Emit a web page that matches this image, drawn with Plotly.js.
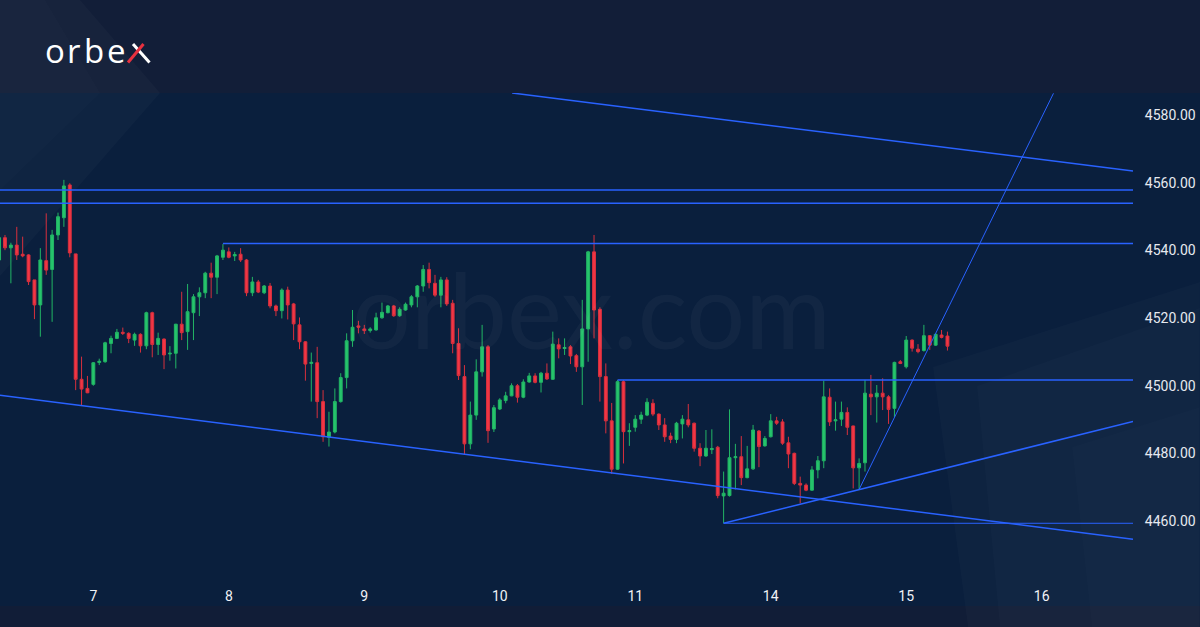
<!DOCTYPE html>
<html>
<head>
<meta charset="utf-8">
<script src="https://cdn.plot.ly/plotly-3.0.1.min.js"></script>
<style>
  html, body { margin: 0; padding: 0; background: #0a1f3d; }
  #chart { width: 1200px; height: 627px; }
</style>
</head>
<body>
<div id="chart"></div>
<script>
// ---------- DATA (hourly candles, index 0 = first visible bar) ----------
const opens = [4537.2,4543.8,4540.8,4541.6,4538.9,4538.7,4531.3,4523.9,4537.0,4534.4,4544.6,4549.7,4559.4,4539.0,4501.9,4499.2,4500.4,4506.9,4507.1,4512.5,
4514.0,4515.8,4515.5,4513.5,4515.2,4511.8,4521.6,4512.2,4513.8,4509.4,4509.6,4518.2,4516.0,4521.6,4526.3,4527.5,4533.3,4532.1,4538.0,4539.6,
4538.4,4538.9,4537.2,4527.5,4530.7,4527.5,4529.5,4523.6,4522.2,4528.3,4524.2,4518.0,4513.0,4506.6,4506.8,4495.3,4484.7,4486.3,4495.3,4502.4,
4513.3,4517.7,4516.8,4516.3,4516.5,4520.1,4521.6,4523.6,4520.7,4522.4,4523.9,4526.3,4529.5,4534.4,4530.3,4526.8,4531.3,4524.4,4512.5,4502.7,
4482.8,4491.3,4504.1,4511.5,4487.2,4493.1,4495.6,4497.0,4500.0,4496.6,4501.1,4502.9,4501.0,4503.7,4501.9,4512.1,4511.0,4511.5,4508.9,4505.6,
4516.8,4539.6,4522.6,4502.7,4489.6,4475.3,4501.2,4486.4,4487.7,4490.1,4491.3,4494.8,4491.6,4488.4,4485.1,4484.1,4488.7,4489.9,4488.9,4481.5,
4479.2,4481.1,4481.8,4467.4,4467.5,4478.7,4479.0,4472.8,4475.4,4486.6,4482.2,4484.9,4489.6,4489.3,4483.1,4480.0,4471.1,4470.6,4469.1,4475.1,
4477.8,4496.6,4489.6,4490.1,4492.1,4488.1,4475.7,4477.2,4497.5,4496.7,4497.8,4496.7,4493.3,4507.1,4505.6,4513.5,4510.8,4510.4,4514.8,4512.0,
4515.0,4514.7];
const highs = [4544.6,4544.6,4542.3,4547.0,4544.1,4538.9,4531.3,4540.7,4551.0,4546.1,4551.2,4560.9,4559.9,4539.0,4508.6,4502.9,4507.0,4508.0,4513.0,4514.8,
4516.8,4517.2,4515.8,4515.7,4515.5,4521.9,4521.9,4515.7,4514.0,4511.7,4518.3,4527.8,4530.1,4527.1,4529.1,4533.7,4536.4,4538.7,4541.9,4540.9,
4539.6,4540.7,4537.5,4532.2,4531.3,4529.8,4530.4,4524.0,4528.8,4529.3,4524.5,4520.2,4513.2,4509.8,4511.5,4498.7,4492.3,4499.2,4503.7,4515.5,
4522.4,4519.2,4518.0,4517.3,4521.6,4524.6,4523.9,4523.9,4523.2,4524.6,4526.8,4529.8,4535.7,4536.4,4532.8,4532.2,4532.1,4525.4,4517.0,4506.1,
4495.3,4507.8,4518.0,4512.0,4494.3,4496.3,4498.2,4500.7,4500.5,4501.9,4503.8,4503.7,4504.1,4506.6,4516.0,4514.0,4514.0,4512.0,4509.4,4525.4,
4539.9,4544.6,4523.2,4506.6,4494.9,4501.7,4501.7,4488.9,4491.3,4492.3,4496.3,4496.0,4491.8,4490.4,4486.1,4489.3,4491.3,4494.6,4489.1,4483.0,
4486.9,4487.1,4482.2,4474.6,4493.0,4482.8,4485.1,4482.2,4488.4,4486.9,4485.1,4491.6,4490.8,4490.1,4484.9,4480.2,4473.1,4471.1,4476.2,4479.2,
4501.5,4499.2,4495.3,4495.3,4493.6,4488.2,4478.5,4501.7,4503.2,4500.2,4502.2,4497.2,4507.1,4507.6,4514.7,4513.7,4512.3,4518.0,4515.0,4515.5,
4516.5,4516.0];
const lows = [4536.6,4540.1,4530.3,4537.2,4538.0,4529.8,4519.7,4514.5,4532.8,4518.9,4543.1,4547.0,4538.0,4498.7,4494.3,4497.8,4500.0,4506.1,4506.8,4509.6,
4513.8,4515.0,4512.6,4511.8,4509.8,4510.8,4508.4,4509.1,4504.9,4507.4,4505.1,4513.5,4510.6,4513.5,4520.6,4525.9,4525.9,4527.1,4537.2,4537.7,
4536.9,4536.6,4526.5,4526.5,4527.4,4527.1,4522.9,4520.6,4519.9,4519.6,4513.5,4510.8,4501.5,4495.3,4490.4,4483.4,4482.0,4485.9,4495.0,4499.2,
4511.5,4515.5,4515.3,4515.7,4516.3,4519.8,4521.4,4520.4,4520.4,4522.2,4523.2,4523.2,4527.8,4528.8,4526.3,4523.2,4523.6,4509.6,4501.7,4479.5,
4481.2,4489.9,4502.7,4483.1,4486.3,4492.8,4494.8,4496.9,4495.0,4496.3,4500.9,4500.7,4498.0,4501.7,4501.7,4508.1,4509.1,4506.4,4504.1,4494.3,
4507.1,4514.0,4495.3,4485.9,4473.9,4475.1,4477.0,4482.2,4486.4,4488.7,4491.0,4491.0,4486.9,4483.4,4483.0,4483.0,4484.4,4487.7,4480.5,4476.2,
4479.0,4479.8,4466.7,4459.3,4467.2,4469.3,4470.6,4472.6,4475.1,4475.9,4482.0,4484.7,4488.4,4482.5,4475.6,4470.6,4465.2,4468.8,4468.9,4472.6,
4475.6,4488.1,4486.7,4488.1,4485.4,4469.6,4469.3,4474.6,4491.3,4489.1,4492.8,4488.7,4490.7,4506.4,4505.1,4510.1,4509.6,4510.1,4510.6,4511.8,
4514.0,4510.4];
const closes = [4543.8,4540.8,4541.6,4538.7,4538.4,4530.8,4523.9,4537.2,4534.2,4544.6,4550.0,4559.1,4539.3,4501.9,4499.0,4497.9,4506.8,4507.2,4512.7,4514.0,
4515.8,4515.5,4514.0,4515.2,4511.8,4521.6,4512.2,4514.0,4509.1,4509.6,4518.2,4515.7,4521.9,4526.3,4527.5,4533.3,4532.1,4538.4,4540.1,4538.0,
4538.8,4537.2,4527.5,4530.7,4527.7,4529.5,4523.6,4522.2,4528.3,4523.9,4518.3,4513.0,4506.4,4506.9,4495.3,4484.9,4486.3,4495.3,4502.4,4513.3,
4517.3,4517.3,4516.3,4516.8,4520.1,4521.7,4523.6,4520.7,4522.6,4524.1,4526.3,4529.5,4534.4,4530.5,4526.8,4531.3,4524.2,4512.5,4503.0,4482.8,
4491.3,4504.1,4511.5,4486.7,4493.5,4495.8,4497.0,4500.0,4496.6,4501.1,4502.9,4501.0,4503.7,4502.0,4512.3,4510.9,4511.3,4508.8,4505.6,4516.8,
4539.6,4522.4,4502.7,4489.6,4475.3,4501.2,4486.4,4486.7,4490.1,4491.3,4495.1,4491.6,4488.4,4484.9,4484.1,4488.9,4490.1,4488.4,4481.5,4479.2,
4481.5,4481.4,4467.5,4468.2,4478.7,4479.0,4472.8,4475.4,4486.9,4482.0,4484.4,4489.6,4488.9,4483.0,4479.8,4471.1,4470.6,4469.1,4475.1,4477.8,
4496.7,4489.3,4489.9,4492.1,4487.7,4475.7,4477.0,4497.8,4496.7,4497.8,4496.7,4493.0,4506.9,4506.6,4513.5,4511.1,4510.1,4514.8,4512.0,4515.2,
4514.3,4511.7];

// x-axis: bar index of the first bar of each day, and its label
const dayTickIdx  = [16, 39, 62, 85, 108, 131, 154, 177];
const dayTickText = ['7', '8', '9', '10', '11', '14', '15', '16'];
const priceTicks  = [4460, 4480, 4500, 4520, 4540, 4560, 4580];

// sloped trend lines: start/end bar index and price
const trendX0 = [87.1, 0.15, 123, 146];
const trendY0 = [4586.6, 4497.2, 4459.3, 4469.3];
const trendX1 = [192.5, 192.5, 192.5, 179.0];
const trendY1 = [4563.5, 4454.6, 4489.4, 4586.5];
const trendW  = [1.5, 1.5, 1.5, 1];

// horizontal levels: price and first bar index
const levelPrice = [4557.9, 4554.0, 4542.1, 4501.7, 4459.3];
const levelStart = [-2, -2, 38, 105, 123];
const levelW     = [1.5, 1.5, 1.5, 1.5, 1];
const rightEndIdx = 192.5;

// ---------- LAYOUT GEOMETRY ----------
const W = 1200, H = 627, mL = 0, mR = 67, mT = 93, mB = 52;
const pW = W - mL - mR, pH = H - mT - mB;
const fx = px => (px - mL) / pW;
const fy = py => (H - mB - py) / pH;
const poly = pts => 'M ' + pts.map(p => fx(p[0]).toFixed(4) + ',' + fy(p[1]).toFixed(4)).join(' L ') + ' Z';

const BLUE = '#2962ff';
const shapes = [];

// background decoration
shapes.push({type: 'rect', xref: 'paper', yref: 'paper', x0: fx(0), x1: fx(W), y0: fy(0), y1: fy(93), fillcolor: '#121e38', line: {width: 0}, layer: 'below'});
shapes.push({type: 'rect', xref: 'paper', yref: 'paper', x0: fx(0), x1: fx(W), y0: fy(606), y1: fy(H), fillcolor: '#111d37', line: {width: 0}, layer: 'below'});
shapes.push({type: 'path', xref: 'paper', yref: 'paper', path: poly([[0,0],[80,0],[160,93],[0,276]]), fillcolor: 'rgba(255,255,255,0.022)', line: {width: 0}, layer: 'below'});
shapes.push({type: 'path', xref: 'paper', yref: 'paper', path: poly([[0,0],[45,0],[100,93],[0,190]]), fillcolor: 'rgba(255,255,255,0.012)', line: {width: 0}, layer: 'below'});
shapes.push({type: 'path', xref: 'paper', yref: 'paper', path: poly([[933,367],[1200,282],[1200,627],[968,627]]), fillcolor: 'rgba(255,255,255,0.02)', line: {width: 0}, layer: 'below'});
shapes.push({type: 'path', xref: 'paper', yref: 'paper', path: poly([[977,386],[1200,308],[1200,627],[1000,627]]), fillcolor: 'rgba(255,255,255,0.016)', line: {width: 0}, layer: 'below'});
shapes.push({type: 'path', xref: 'paper', yref: 'paper', path: poly([[1072,447],[1200,407],[1200,627],[1092,627]]), fillcolor: 'rgba(255,255,255,0.012)', line: {width: 0}, layer: 'below'});

// logo "x" strokes
shapes.push({type: 'line', xref: 'paper', yref: 'paper', x0: fx(133), y0: fy(44), x1: fx(149.5), y1: fy(62.5), line: {color: '#ffffff', width: 3}});
shapes.push({type: 'line', xref: 'paper', yref: 'paper', x0: fx(128), y0: fy(62.5), x1: fx(143.5), y1: fy(44), line: {color: '#e8313f', width: 3}});

// trend lines and levels in data coordinates
for (let i = 0; i < trendX0.length; i++) {
  shapes.push({type: 'line', xref: 'x', yref: 'y', x0: trendX0[i], y0: trendY0[i], x1: trendX1[i], y1: trendY1[i], line: {color: BLUE, width: trendW[i]}});
}
for (let i = 0; i < levelPrice.length; i++) {
  shapes.push({type: 'line', xref: 'x', yref: 'y', x0: levelStart[i], y0: levelPrice[i], x1: rightEndIdx, y1: levelPrice[i], line: {color: BLUE, width: levelW[i]}});
}

const annotations = [
  {text: 'orbex.com', xref: 'paper', yref: 'paper', x: fx(591), y: fy(308), xanchor: 'center', yanchor: 'middle', showarrow: false,
   font: {family: 'Lato, sans-serif', size: 104, color: 'rgba(255,255,255,0.035)'}},
];
const logoLetters = ['o', 'r', 'b', 'e'];
const logoX = [55, 74, 93.5, 116.5];
logoLetters.forEach((t, i) => annotations.push({
  text: t, xref: 'paper', yref: 'paper', x: fx(logoX[i]), y: fy(50), xanchor: 'center', yanchor: 'middle', showarrow: false,
  font: {family: 'Open Sans, sans-serif', size: 33, color: '#ffffff'}
}));

const candleIdx = opens.map((_, i) => i);

const trace = {
  type: 'candlestick',
  x: candleIdx, open: opens, high: highs, low: lows, close: closes,
  increasing: {line: {color: '#22b565', width: 1}, fillcolor: '#26c46c'},
  decreasing: {line: {color: '#d8303d', width: 1}, fillcolor: '#f23645'},
  whiskerwidth: 0,
  hoverinfo: 'skip'
};

const layout = {
  width: W, height: H,
  margin: {l: mL, r: mR, t: mT, b: mB, pad: 0},
  paper_bgcolor: '#0a1f3d',
  plot_bgcolor: 'rgba(0,0,0,0)',
  showlegend: false,
  hovermode: false,
  xaxis: {
    range: [0.153, rightEndIdx],
    rangeslider: {visible: false},
    showgrid: false, zeroline: false, showline: false,
    tickmode: 'array', tickvals: dayTickIdx, ticktext: dayTickText,
    ticks: 'outside', ticklen: 8, tickcolor: 'rgba(0,0,0,0)',
    tickfont: {family: 'Roboto, sans-serif', size: 14, color: '#f0f2f6'},
    fixedrange: true
  },
  yaxis: {
    side: 'right',
    range: [4444.0, 4586.6],
    showgrid: false, zeroline: false, showline: false,
    tickmode: 'array', tickvals: priceTicks, ticktext: priceTicks.map(v => v.toFixed(2)),
    ticks: 'outside', ticklen: 8, tickcolor: 'rgba(0,0,0,0)',
    tickfont: {family: 'Roboto, sans-serif', size: 14, color: '#e6e9ef'},
    fixedrange: true
  },
  shapes: shapes,
  annotations: annotations
};

Plotly.newPlot('chart', [trace], layout, {staticPlot: true, displayModeBar: false});
</script>
</body>
</html>
